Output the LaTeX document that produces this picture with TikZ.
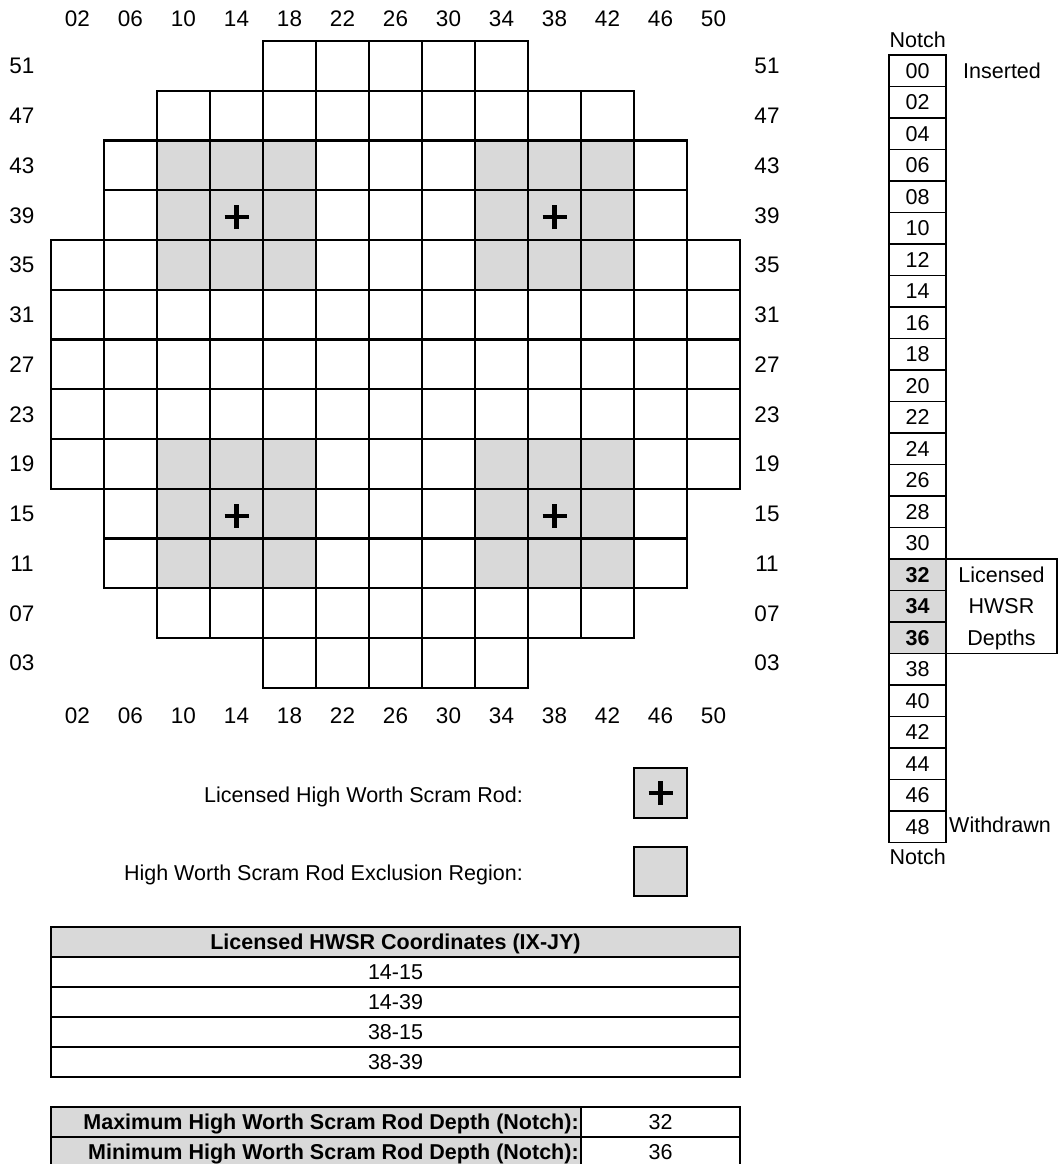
\documentclass[tikz,border=0pt]{standalone}
\usepackage{fontspec}
\setmainfont{Liberation Sans}
\definecolor{cellgray}{RGB}{217,217,217}
\begin{document}
\begin{tikzpicture}[x=1pt,y=-1pt,
  every node/.style={inner sep=0pt, text height=15.4pt, text depth=0pt, font=\fontsize{21.5}{25}\selectfont},
  cell/.style={draw, line width=2.2pt, minimum width=53pt, minimum height=49.75pt},
  lab/.style={font=\fontsize{22.5}{26}\selectfont, text height=16pt},
  notchcell/.style={draw, line width=1.8pt, minimum width=56.7pt, minimum height=31.5pt, font=\fontsize{21.5}{25}\selectfont},
  nplain/.style={},
  nhot/.style={fill=cellgray, font=\fontsize{21.5}{25}\selectfont\bfseries},
  plusmark/.style={line width=4.2pt},
  tcell/.style={draw, line width=1.8pt, minimum height=30pt},
  boldtext/.style={font=\fontsize{21.5}{25}\selectfont\bfseries}
]
\useasboundingbox (0,0) rectangle (1059,1164);
\fill[white] (0,0) rectangle (1059,1164);
\clip (0,0) rectangle (1059,1164);

% exclusion regions
\fill[cellgray] (157,140.5) rectangle (316,289.75);
\fill[cellgray] (475,140.5) rectangle (634,289.75);
\fill[cellgray] (157,439) rectangle (316,588.25);
\fill[cellgray] (475,439) rectangle (634,588.25);

% core grid
\foreach \lab/\a/\b [count=\r from 0] in {51/4/8,47/2/10,43/1/11,39/1/11,35/0/12,31/0/12,27/0/12,23/0/12,19/0/12,15/1/11,11/1/11,07/2/10,03/4/8}{
  \foreach \c in {\a,...,\b}{
    \node[cell] (g-\r-\c) at ({51+53*(\c+0.5)},{41+49.75*(\r+0.5)}) {};
  }
  \node[lab] (rl-\r) at (22,{41+49.75*(\r+0.5)}) {\lab};
  \node[lab] (rr-\r) at (767,{41+49.75*(\r+0.5)}) {\lab};
}
\foreach \lab [count=\c from 0] in {02,06,10,14,18,22,26,30,34,38,42,46,50}{
  \node[lab] (ct-\c) at ({51+53*(\c+0.5)},19) {\lab};
  \node[lab] (cb-\c) at ({51+53*(\c+0.5)},715) {\lab};
}
% high worth scram rods
\foreach \r/\c in {3/3,3/9,9/3,9/9}{
  \draw[plusmark] ([xshift=-12pt,yshift=-2pt]g-\r-\c.center) -- ([xshift=12pt,yshift=-2pt]g-\r-\c.center);
  \draw[plusmark] ([yshift=-14pt]g-\r-\c.center) -- ([yshift=10pt]g-\r-\c.center);
}

% notch table
\node (notch-top) at (917.7,40) {Notch};
\node (notch-bot) at (917.7,857) {Notch};
\foreach \lab/\st [count=\i from 0] in {00/nplain,02/nplain,04/nplain,06/nplain,08/nplain,10/nplain,12/nplain,14/nplain,16/nplain,18/nplain,20/nplain,22/nplain,24/nplain,26/nplain,28/nplain,30/nplain,32/nhot,34/nhot,36/nhot,38/nplain,40/nplain,42/nplain,44/nplain,46/nplain,48/nplain}{
  \node[notchcell,\st] (n-\i) at (917.65,{55+31.5*(\i+0.5)}) {\lab};
}
\node[draw, line width=1.8pt, minimum width=111pt, minimum height=94.5pt] (lic) at (1001.5,606.25) {};
\node (lic-1) at (1001.5,574.75) {Licensed};
\node (lic-2) at (1001.5,606.25) {HWSR};
\node (lic-3) at (1001.5,637.75) {Depths};
\node[anchor=west] (ins) at (963,71) {Inserted};
\node[anchor=west] (wd) at (949,825) {Withdrawn};

% legend
\node[anchor=east] (leg1) at (523,795) {Licensed High Worth Scram Rod:};
\node[draw, line width=2.2pt, fill=cellgray, minimum width=53pt, minimum height=50.5pt] (box1) at (660.5,793) {};
\draw[plusmark] ([xshift=-12pt]box1.center) -- ([xshift=12pt]box1.center);
\draw[plusmark] ([yshift=-12pt]box1.center) -- ([yshift=12pt]box1.center);
\node[anchor=east] (leg2) at (523,873) {High Worth Scram Rod Exclusion Region:};
\node[draw, line width=2.2pt, fill=cellgray, minimum width=53pt, minimum height=49.5pt] (box2) at (660.5,871.4) {};

% coordinates table
\node[tcell, fill=cellgray, minimum width=689pt, boldtext] (th) at (395.5,942) {Licensed HWSR Coordinates (IX-JY)};
\node[tcell, minimum width=689pt] (t1) at (395.5,972) {14-15};
\node[tcell, minimum width=689pt] (t2) at (395.5,1002) {14-39};
\node[tcell, minimum width=689pt] (t3) at (395.5,1032) {38-15};
\node[tcell, minimum width=689pt] (t4) at (395.5,1062) {38-39};

% depth table
\node[tcell, fill=cellgray, minimum width=530pt] (mx) at (316,1122) {};
\node[tcell, minimum width=159pt] (mxv) at (660.5,1122) {32};
\node[tcell, fill=cellgray, minimum width=530pt] (mn) at (316,1152) {};
\node[tcell, minimum width=159pt] (mnv) at (660.5,1152) {36};
\node[anchor=east, boldtext] (mxt) at ([xshift=-3pt]mx.east) {Maximum High Worth Scram Rod Depth (Notch):};
\node[anchor=east, boldtext] (mnt) at ([xshift=-3pt]mn.east) {Minimum High Worth Scram Rod Depth (Notch):};
\end{tikzpicture}
\end{document}
